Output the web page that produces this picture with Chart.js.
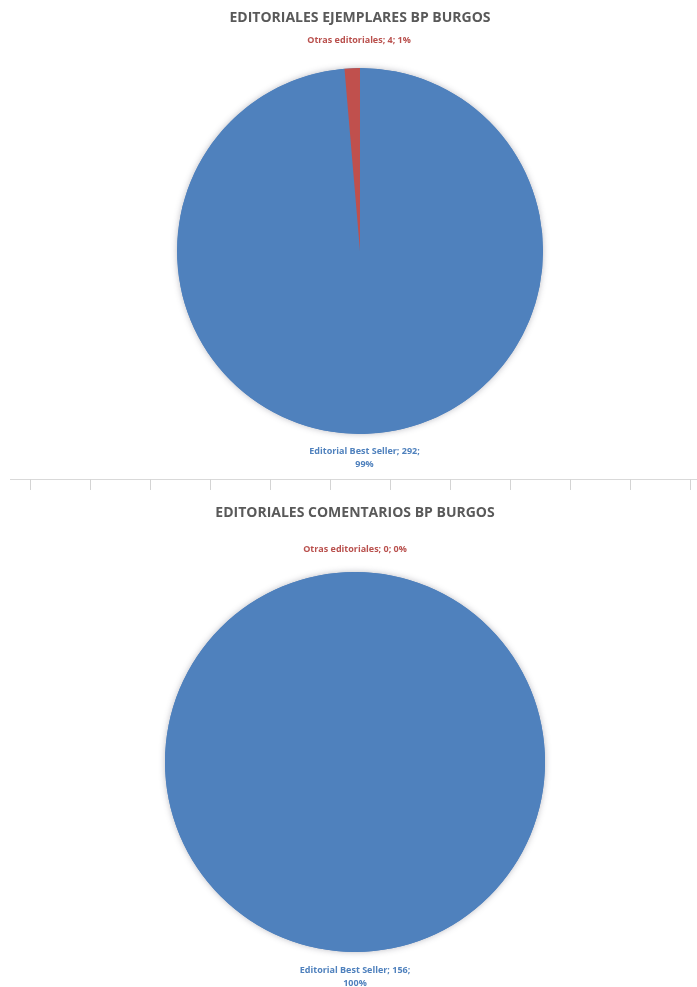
<!DOCTYPE html>
<html><head><meta charset="utf-8">
<script src="https://cdn.jsdelivr.net/npm/chart.js@4.4.1/dist/chart.umd.min.js"></script>
<style>
html,body{margin:0;padding:0;background:#fff;width:697px;height:987px;overflow:hidden;}
#c1wrap{position:absolute;left:0;top:0;width:697px;height:478px;}
#c2wrap{position:absolute;left:0;top:490px;width:697px;height:497px;}
#ruler{position:absolute;left:10px;top:479px;width:687px;height:1px;background:#d9d9d9;}
.tick{position:absolute;top:479px;width:1px;height:11px;background:#d4d4d4;}
</style></head><body>
<div id="c1wrap"><canvas id="c1"></canvas></div>
<div id="ruler"></div>
<div id="c2wrap"><canvas id="c2"></canvas></div>
<script>
const categories = ['Editorial Best Seller', 'Otras editoriales'];
const ejemplaresValues = [292, 4];
const comentariosValues = [156, 0];
const chartTitles = ['EDITORIALES EJEMPLARES BP BURGOS', 'EDITORIALES COMENTARIOS BP BURGOS'];

const sliceColors = ['#4F81BD', '#C0504D'];
const labelColors = ['#4F81BD', '#B9504D'];

// ruler decoration between the two charts
for (let x = 30; x < 697; x += 60) {
  const t = document.createElement('div');
  t.className = 'tick';
  t.style.left = x + 'px';
  document.body.appendChild(t);
}

const glowPlugin = {
  id: 'glow',
  beforeDatasetsDraw(chart) {
    const arc = chart.getDatasetMeta(0).data[0];
    if (!arc) return;
    const p = arc.getProps(['x', 'y', 'outerRadius'], true);
    const ctx = chart.ctx;
    ctx.save();
    ctx.shadowColor = 'rgba(60,60,80,0.35)';
    ctx.shadowBlur = 6;
    ctx.fillStyle = sliceColors[0];
    ctx.beginPath();
    ctx.arc(p.x, p.y, p.outerRadius, 0, Math.PI * 2);
    ctx.fill();
    ctx.restore();
  }
};

const labelPlugin = {
  id: 'outLabels',
  afterDatasetsDraw(chart, args, opts) {
    const ctx = chart.ctx;
    const meta = chart.getDatasetMeta(0);
    const data = chart.data.datasets[0].data;
    const total = data.reduce((a, b) => a + b, 0);
    ctx.save();
    ctx.font = opts.font;
    ctx.textAlign = 'center';
    ctx.textBaseline = 'middle';
    meta.data.forEach((arc, i) => {
      const p = arc.getProps(['x', 'y', 'startAngle', 'endAngle', 'outerRadius'], true);
      const mid = (p.startAngle + p.endAngle) / 2;
      const gap = opts.gaps[i];
      const ax = p.x + Math.cos(mid) * (p.outerRadius + gap) + opts.dx[i];
      const ay = p.y + Math.sin(mid) * (p.outerRadius + gap);
      const pct = Math.round(data[i] / total * 100) + '%';
      const full = chart.data.labels[i] + '; ' + data[i] + '; ' + pct;
      const words = full.split(' ');
      const lines = [];
      let cur = '';
      words.forEach(w => {
        const t = cur ? cur + ' ' + w : w;
        if (ctx.measureText(t).width > opts.maxWidth && cur) { lines.push(cur); cur = w; }
        else cur = t;
      });
      lines.push(cur);
      ctx.fillStyle = labelColors[i];
      const down = Math.sin(mid) > 0;
      lines.forEach((ln, k) => {
        const y = down ? ay + k * opts.lineHeight : ay - (lines.length - 1 - k) * opts.lineHeight;
        ctx.fillText(ln, ax, y);
      });
    });
    ctx.restore();
  }
};

function makePie(id, values, title, pad, titlePad, gaps, dx) {
  return new Chart(document.getElementById(id), {
    type: 'pie',
    data: {
      labels: categories,
      datasets: [{
        data: values,
        backgroundColor: sliceColors,
        borderWidth: 0,
        hoverOffset: 0
      }]
    },
    options: {
      responsive: true,
      maintainAspectRatio: false,
      animation: false,
      events: [],
      layout: { padding: pad },
      plugins: {
        legend: { display: false },
        tooltip: { enabled: false },
        title: {
          display: true,
          text: title,
          color: '#595959',
          font: { family: 'Open Sans', size: 14, weight: 'bold', lineHeight: 1.2 },
          padding: titlePad
        },
        outLabels: {
          font: 'bold 9px "Open Sans"',
          lineHeight: 13,
          maxWidth: 120,
          gaps: gaps,
          dx: dx
        }
      }
    },
    plugins: [glowPlugin, labelPlugin]
  });
}

makePie('c1', ejemplaresValues, chartTitles[0],
  { top: 0, bottom: 44, left: 177, right: 154 },
  { top: 10, bottom: 41.2 }, [18, 28], [-4, 8]);

makePie('c2', comentariosValues, chartTitles[1],
  { top: 0, bottom: 35, left: 165, right: 152 },
  { top: 14.6, bottom: 50.6 }, [18, 23], [0, 0]);
</script>
</body></html>
